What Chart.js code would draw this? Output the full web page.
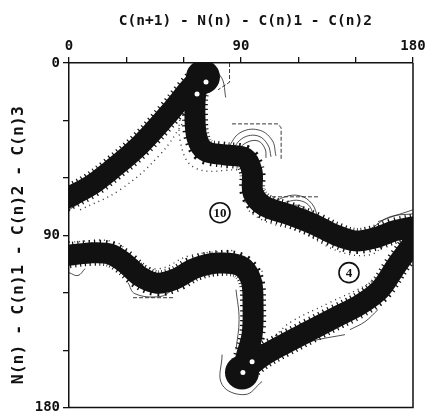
<!DOCTYPE html>
<html>
<head>
<meta charset="utf-8">
<script src="https://cdn.jsdelivr.net/npm/chart.js@4.4.1/dist/chart.umd.min.js"></script>
<style>
  html, body { margin: 0; padding: 0; background: #fff; }
  #wrap { width: 431px; height: 419px; }
</style>
</head>
<body>
<div id="wrap"><canvas id="energyMap"></canvas></div>
<script>
// axis text (padding spaces nudge the centred titles like the original)
const xTitle = " C(n+1) - N(n) - C(n)1 - C(n)2";
const yTitle = "N(n) - C(n)1 - C(n)2 - C(n)3  ";
const shownTicks = [0, 90, 180];

// dense contour bands (centre lines, degrees)
const bandDiagonal = [[-3, 71.5], [11, 64.2], [21.5, 56.3], [37.2, 42.8], [52.9, 25.6], [63.3, 13], [70.1, 5.7]];
const bandUpper = [[70.1, 5.7], [66.5, 15.1], [65.9, 27.1], [67, 39.1], [71.2, 45.9], [81.6, 48], [92.1, 49.6],
  [95.8, 56.9], [96.3, 67.8], [102, 74.6], [115.6, 79.3], [128.7, 84.5], [139.2, 89.7], [149.7, 92.9],
  [160.1, 91.3], [170.6, 87.6], [183, 85]];
const bandLower = [[-3, 100.8], [11, 99.2], [21.5, 99.8], [29.3, 104.5], [37.2, 111.5], [46, 115], [55.5, 112.9],
  [65.9, 107.2], [78, 104.5], [89.5, 105.9], [95.2, 113.2], [96.3, 126.2], [95.8, 141.9], [92.6, 153.9], [91.1, 161.2]];
const bandLowerRight = [[91.1, 161.2], [101, 153.4], [113, 146.6], [126.1, 139.8], [139.2, 133], [152.3, 126.2],
  [162.7, 118.4], [171.6, 105.4], [183, 90.2]];

// minima blobs and the light holes in them
const blobs = [[70.1, 7.3], [90.5, 161.7]];
const holes = [[71.7, 9.9], [67, 16.2], [91, 161.7], [95.8, 156]];

// thin outer contours
const thinLines = [
  [[83.2, 44.3], [89.4, 36.5], [98.9, 34.9], [106.2, 40.2], [108.3, 48.5]],
  [[85.3, 45.4], [91.1, 39.1], [98.9, 38.1], [104.1, 42.8], [105.7, 49]],
  [[87.4, 46.4], [92.6, 41.7], [98.9, 40.7], [102.6, 44.9], [103.1, 49.6]],
  [[105.2, 74.1], [113, 69.9], [120.9, 69.4], [127.2, 73.6], [130.3, 80.9]],
  [[106.2, 75.6], [114.1, 72.5], [120.9, 71.9], [126.1, 75.1], [128.2, 81.9]],
  [[107.8, 77.2], [115.1, 74.6], [120.9, 74.6], [124.5, 77.2], [126.1, 82.5]],
  [[158.6, 86.1], [168, 80.3], [180, 78.8]],
  [[161.7, 82.9], [170.6, 79.8], [180, 76.7]],
  [[170.6, 110.6], [175.8, 100.2], [180, 94.9]],
  [[166.9, 115.8], [174.3, 103.8], [180, 98.6]],
  [[0, 109.5], [4.7, 111], [8.4, 107.4]],
  [[30.9, 114.8], [34.5, 120.5], [47.6, 122], [53.9, 118.8]],
  [[113, 150.8], [120.9, 147.1], [130.3, 144.5], [144.4, 141.9]],
  [[147, 139.3], [154.9, 135.1], [161.7, 128.8]],
  [[80.1, 152.3], [80.1, 168], [92.1, 173.2], [101, 166.4]],
  [[87.4, 118.4], [89, 134.1], [87.4, 149.7]],
  [[0, 76.7], [5.8, 73], [12, 69]],
  [[74, 2], [80, 8], [82, 18]]
];
const dashedLines = [
  [[85.3, 31.8], [109.4, 31.8], [111, 33.9], [111, 50.6]],
  [[106.2, 69.9], [130.3, 69.9]],
  [[33.5, 122.6], [55.5, 122.6]],
  [[84, 0], [84, 10], [78, 14]]
];
// stippled edges of the low-energy region
const dottedLines = [
  [[5.8, 76.7], [26.7, 66.2], [47.6, 47.9], [60.7, 29.7]],
  [[59.1, 19.3], [58.1, 40.2], [65.9, 54.8], [89.5, 55.8]],
  [[92.1, 56.8], [92.6, 74.1], [101, 81.9], [120.9, 88.2], [141.8, 98.6], [157.5, 100.2], [165.4, 94.9]],
  [[0, 93.5], [24.1, 93.5], [34.5, 102.5], [46.6, 107.5], [63.3, 100.6], [86.9, 97.8]],
  [[101, 108.5], [101.5, 146.6], [115.6, 135.6], [136.3, 125.2], [157.5, 114.8], [165.4, 107.8]]
];

// circled energy labels
const markText = ["10", "4"];
const markX = [79, 146.5];
const markY = [78.2, 109.5];

const toPts = (arr) => arr.map((p) => ({ x: p[0], y: p[1] }));

const datasets = [];
const bands = [bandDiagonal, bandUpper, bandLower, bandLowerRight];
bands.forEach((b) => {
  datasets.push({
    data: toPts(b), showLine: true, pointRadius: 0, borderColor: "#111",
    borderWidth: 21, tension: 0.35, borderCapStyle: "round", borderJoinStyle: "round", order: 3
  });
  // ragged comb along the band edges
  datasets.push({
    data: toPts(b), showLine: true, pointRadius: 0, borderColor: "#111",
    borderWidth: 26, tension: 0.35, borderDash: [1.2, 4], borderCapStyle: "butt", order: 4
  });
});
thinLines.forEach((l) => {
  datasets.push({ data: toPts(l), showLine: true, pointRadius: 0, borderColor: "#222", borderWidth: 0.8, tension: 0.4, order: 5 });
});
dashedLines.forEach((l) => {
  datasets.push({ data: toPts(l), showLine: true, pointRadius: 0, borderColor: "#222", borderWidth: 0.9, borderDash: [4, 2], order: 5 });
});
dottedLines.forEach((l) => {
  datasets.push({ data: toPts(l), showLine: true, pointRadius: 0, borderColor: "#333", borderWidth: 1.4, borderDash: [1, 4], tension: 0.4, order: 5 });
});
datasets.push({ data: toPts(blobs), pointRadius: 17, pointBackgroundColor: "#111", pointBorderWidth: 0, order: 2 });
datasets.push({ data: toPts(holes), pointRadius: 2.5, pointBackgroundColor: "#fff", pointBorderWidth: 0, order: 1 });

const framePlugin = {
  id: "frame",
  afterDraw(chart) {
    const { ctx, chartArea: a, scales } = chart;
    ctx.save();
    ctx.strokeStyle = "#111";
    ctx.lineWidth = 1.5;
    ctx.beginPath();
    ctx.moveTo(a.right, a.top);
    ctx.lineTo(a.right, a.bottom);
    ctx.lineTo(a.left, a.bottom);
    ctx.stroke();
    // circled labels
    markText.forEach((t, i) => {
      const px = scales.x.getPixelForValue(markX[i]);
      const py = scales.y.getPixelForValue(markY[i]);
      ctx.beginPath();
      ctx.arc(px, py, 10, 0, Math.PI * 2);
      ctx.fillStyle = "#fff";
      ctx.fill();
      ctx.lineWidth = 1.6;
      ctx.stroke();
      ctx.fillStyle = "#111";
      ctx.font = "bold 13px 'Liberation Serif'";
      ctx.textAlign = "center";
      ctx.textBaseline = "middle";
      ctx.fillText(t, px, py + 1);
    });
    ctx.restore();
  }
};

const tickFont = { family: "'DejaVu Sans Mono'", size: 14, weight: "bold" };

new Chart(document.getElementById("energyMap"), {
  type: "scatter",
  data: { datasets },
  options: {
    responsive: true,
    maintainAspectRatio: false,
    animation: false,
    layout: { autoPadding: false, padding: { left: 0, top: 0, right: 18, bottom: 11 } },
    plugins: { legend: { display: false }, tooltip: { enabled: false } },
    scales: {
      x: {
        type: "linear", position: "top", min: 0, max: 180,
        afterFit: (s) => { s.height = 63; },
        ticks: {
          stepSize: 30, color: "#111", font: tickFont, padding: 2, maxRotation: 0,
          callback: (v) => (shownTicks.includes(v) ? String(v) : "")
        },
        grid: { drawOnChartArea: false, color: "#111", lineWidth: 1.3, tickLength: 6 },
        border: { color: "#111", width: 1.5 },
        title: { display: true, text: xTitle, color: "#111", font: { family: "'DejaVu Sans Mono'", size: 14.5, weight: "bold" }, padding: { top: 13, bottom: 0 } }
      },
      y: {
        type: "linear", position: "left", min: 0, max: 180, reverse: true,
        afterFit: (s) => { s.width = 69; },
        ticks: {
          stepSize: 30, color: "#111", font: tickFont, padding: 3,
          callback: (v) => (shownTicks.includes(v) ? String(v) : "")
        },
        grid: { drawOnChartArea: false, color: "#111", lineWidth: 1.3, tickLength: 6 },
        border: { color: "#111", width: 1.5 },
        title: { display: true, text: yTitle, color: "#111", font: { family: "'DejaVu Sans Mono'", size: 16.5, weight: "bold" }, padding: { top: 9, bottom: 0 } }
      }
    }
  },
  plugins: [framePlugin]
});
</script>
</body>
</html>
